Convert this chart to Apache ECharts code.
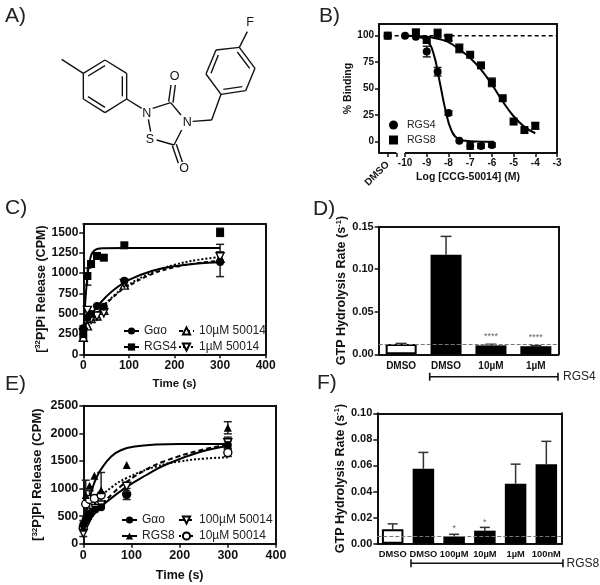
<!DOCTYPE html>
<html><head><meta charset="utf-8">
<style>html,body{margin:0;padding:0;background:#fff}#c{width:600px;height:585px}</style>
<script src="https://cdn.jsdelivr.net/npm/echarts@6/dist/echarts.min.js"></script>
</head><body><div id="c"></div>
<script>
// ---------- Panel B data: log[CCG-50014] vs % binding
const bTicks = [-10,-9,-8,-7,-6,-5,-4,-3];
const bYTicks = [0,25,50,75,100];
const bRgs4Pts = [[-10.8,100],[-10,100],[-9.5,99],[-9,85],[-8.5,66],[-8,27],[-7.5,1],[-7,-4],[-6.5,-4],[-6,-3]];
const bRgs8Pts = [[-10.8,100],[-9.5,103],[-9,96],[-8.5,102],[-8,98],[-7.5,88],[-7,82],[-6.5,72],[-6,56],[-5.5,41],[-5,19],[-4.5,11],[-4,15]];
const bRgs4Fit = [[-10,100],[-9.5,99.5],[-9,95],[-8.7,84],[-8.4,56],[-8.14,30],[-7.87,11],[-7.56,3],[-7,0.5],[-5.9,0]];
const bRgs8Fit = [[-10,100],[-9,99],[-8.5,97],[-8,94],[-7.5,87],[-7,79],[-6.5,68],[-6,54],[-5.5,38],[-5,24],[-4.5,14],[-4,8]];
const bErr4 = [[-9,80,90],[-8.5,62,70],[-8,25,29],[-7,-7,-1],[-6.5,-6,-2],[-6,-5,-1]];
const bErr8 = [[-9.5,100,106],[-9,93,99],[-8.5,98,106],[-8,95,101],[-7.5,84,92],[-6,52,60],[-4,12,18]];
// ---------- Panel C data: time vs CPM
const cTicksX = [0,100,200,300,400];
const cTicksY = [0,250,500,750,1000,1250,1500];
const cGaoPts = [[0,320],[9,450],[17,495],[30,594],[45,586],[90,905],[300,1135]];
const cRgs4Pts = [[0,250],[9,963],[17,1110],[30,1209],[45,1188],[90,1340],[300,1496]];
const c10Pts = [[0,210],[9,350],[17,440],[30,470],[45,540],[90,850],[300,1180]];
const c1Pts = [[0,270],[9,540],[17,430],[30,470],[45,510],[90,870],[300,1200]];
const cGaoFit = [[0,320],[15,464],[30,582],[50,707],[70,806],[100,915],[150,1025],[200,1083],[250,1115],[300,1132]];
const cRgs4Fit = [[0,250],[5,700],[10,1000],[15,1170],[20,1250],[30,1295],[45,1305],[90,1308],[300,1308]];
const c10Fit = [[0,240],[15,375],[30,490],[50,620],[70,725],[90,810],[150,985],[200,1070],[250,1120],[300,1150]];
const c1Fit = [[0,270],[15,395],[30,505],[50,630],[70,735],[90,825],[150,1005],[200,1100],[250,1160],[300,1195]];
const cErr = [[9,850,1060],[300,1450,1550],[300,955,1352],[0,190,350],[300,1130,1260],[30,430,510]];
// ---------- Panel D data
const dCats = ['DMSO','DMSO','10µM','1µM'];
const dVals = [0.012,0.117,0.0105,0.0095];
const dErrTop = [0.0128,0.1386,0.0118,0.0102];
const dFills = ['#fff','#000','#000','#000'];
const dStars = ['','','****','****'];
const dTicksY = [0,0.05,0.10,0.15];
const dRef = 0.0115;
// ---------- Panel E data: time vs CPM
const eTicksX = [0,100,200,300,400];
const eTicksY = [0,500,1000,1500,2000,2500];
const eGaoPts = [[0,350],[5,440],[10,480],[15,550],[25,620],[37,660],[90,880],[300,1790]];
const eRgs8Pts = [[0,300],[5,880],[13,1050],[23,1232],[37,970],[90,1425],[300,2100]];
const e100Pts = [[0,190],[5,320],[10,420],[15,500],[25,640],[37,700],[90,1040],[300,1830]];
const e10Pts = [[0,300],[5,720],[13,800],[23,820],[37,880],[90,900],[300,1650]];
const eGaoFit = [[0,350],[25,575],[50,770],[90,1030],[130,1240],[173,1440],[242,1660],[300,1770]];
const eRgs8Fit = [[0,300],[10,725],[20,1030],[27,1190],[37,1350],[58,1580],[79,1697],[107,1760],[150,1795],[200,1805],[300,1805]];
const e100Fit = [[0,250],[30,620],[60,900],[90,1120],[130,1340],[170,1500],[250,1710],[300,1790]];
const e10Fit = [[0,420],[30,790],[60,1030],[90,1190],[150,1395],[200,1490],[250,1540],[300,1565]];
const eErr = [[300,1990,2210],[300,1720,1860],[300,1730,1930],[300,1580,1720],[37,700,1290],[90,800,1000],[5,420,1150],[0,130,420],[13,640,960]];
// ---------- Panel F data
const fCats = ['DMSO','DMSO','100µM','10µM','1µM','100nM'];
const fVals = [0.011,0.0575,0.0055,0.010,0.046,0.061];
const fErrTop = [0.0152,0.070,0.0072,0.0125,0.061,0.0785];
const fFills = ['#fff','#000','#000','#000','#000','#000'];
const fStars = ['','','*','*','',''];
const fTicksY = [0,0.02,0.04,0.06,0.08,0.10];
const fRef = 0.0055;
// ---------- Panel A: chemical structure (line drawing, not data)
const bonds = [[185,178,250,220],[250,220,315,180],[315,180,380,220],[380,220,380,297],[380,297,315,338],[315,338,250,297],[250,297,250,220],
 [264,228,315,197],[367,229,367,289],[315,322,264,290],[380,297,425,325],[445,358,452,395],[470,420,522,435],[522,435,545,390],
 [543,345,512,308],[458,325,512,308],[506,305,513,255],[519,308,526,255],[517,437,535,490],[529,433,547,486],
 [578,364,635,360],[635,360,663,283],[663,283,737,272],[737,272,765,205],[765,205,718,142],[718,142,648,150],[648,150,618,222],[618,222,663,283],
 [670,268,727,260],[749,205,712,156],[655,165,633,220],[718,142,742,95]];
const atoms = [['N',440,342],['S',450,418],['N',562,367],['O',524,231],['O',552,507],['F',750,68]];

const INK = '#111';
const FF = '"Liberation Sans", Arial, sans-serif';
const grid=[], xAxis=[], yAxis=[], series=[];

function frame(g, left, top, width, height){
  grid.push({left, top, width, height, containLabel:false});
  xAxis.push({gridIndex:g,type:'value',position:'top',min:0,max:1,axisLine:{show:true,onZero:false,lineStyle:{color:INK,width:2}},axisTick:{show:false},axisLabel:{show:false},splitLine:{show:false}});
  yAxis.push({gridIndex:g,type:'value',position:'right',min:0,max:1,axisLine:{show:true,onZero:false,lineStyle:{color:INK,width:2}},axisTick:{show:false},axisLabel:{show:false},splitLine:{show:false}});
}
function valX(g,min,max,ticks,labels,name,gap,fs,nfs,showLine){
  xAxis.push({gridIndex:g,type:'value',position:'bottom',min,max,name,nameLocation:'middle',nameGap:gap,
    nameTextStyle:{fontFamily:FF,fontWeight:'bold',fontSize:nfs,color:INK},
    axisLine:{show:showLine!==false,onZero:false,lineStyle:{color:INK,width:2}},
    axisTick:{show:true,length:4,customValues:ticks,lineStyle:{color:INK,width:1.5}},
    axisLabel:{customValues:labels,margin:5,fontFamily:FF,fontWeight:'bold',fontSize:fs,color:INK,hideOverlap:false},splitLine:{show:false}});
  return xAxis.length-1;
}
function valY(g,min,max,ticks,nameText,gap,fs,nfs,fmt){
  yAxis.push({gridIndex:g,type:'value',position:'left',min,max,name:nameText,nameLocation:'middle',nameGap:gap,nameRotate:90,
    nameTextStyle:{fontFamily:FF,fontWeight:'bold',fontSize:nfs,color:INK,rich:{b:{fontFamily:FF,fontWeight:'bold',fontSize:nfs,color:INK,lineHeight:nfs+2},s:{fontFamily:FF,fontWeight:'bold',fontSize:nfs*0.62,color:INK,verticalAlign:'top',lineHeight:nfs+2}}},
    axisLine:{show:true,onZero:false,lineStyle:{color:INK,width:2}},
    axisTick:{show:true,length:4,customValues:ticks,lineStyle:{color:INK,width:1.5}},
    axisLabel:{customValues:ticks,margin:5,fontFamily:FF,fontWeight:'bold',fontSize:fs,color:INK,formatter:fmt||(v=>String(v))},splitLine:{show:false}});
  return yAxis.length-1;
}
function catX(g,cats,fs,margin){
  xAxis.push({gridIndex:g,type:'category',position:'bottom',data:cats,
    axisLine:{show:true,onZero:false,lineStyle:{color:INK,width:2}},axisTick:{show:false},
    axisLabel:{interval:0,margin,fontFamily:FF,fontWeight:'bold',fontSize:fs,color:INK},splitLine:{show:false}});
  return xAxis.length-1;
}
function marker(sym){
  const open = sym.open;
  return {symbol:sym.s,symbolSize:sym.z,symbolRotate:sym.r||0,itemStyle:open?{color:'#fff',borderColor:'#000',borderWidth:1.4,opacity:1}:{color:'#000',borderColor:'#000',borderWidth:0,opacity:1}};
}
const CIRC={s:'circle',z:8}, SQ={s:'rect',z:8}, TRI={s:'triangle',z:8}, OTRI={s:'triangle',z:8,open:true}, ODOWN={s:'triangle',z:8,r:180,open:true}, OCIRC={s:'circle',z:8,open:true};
function fit(name,data,xi,yi,sym,type,w){
  series.push(Object.assign({name,type:'line',xAxisIndex:xi,yAxisIndex:yi,data,smooth:0.45,showSymbol:false,clip:false,z:3,
    lineStyle:{color:'#000',width:w||2,type:type||'solid'}},marker(sym)));
}
function pts(name,data,xi,yi,sym){
  series.push(Object.assign({name,type:'scatter',xAxisIndex:xi,yAxisIndex:yi,data,clip:false,z:4},marker(sym)));
}
function errs(name,data,xi,yi,cap,color){
  series.push({name,type:'custom',xAxisIndex:xi,yAxisIndex:yi,data,clip:false,z:2,silent:true,
    encode:{x:0,y:[1,2]},
    renderItem(p,api){
      const a=api.coord([api.value(0),api.value(1)]), b=api.coord([api.value(0),api.value(2)]);
      const st={stroke:color||'#222',lineWidth:1.5,fill:null};
      return {type:'group',children:[
        {type:'line',shape:{x1:a[0],y1:a[1],x2:b[0],y2:b[1]},style:st},
        {type:'line',shape:{x1:a[0]-cap,y1:a[1],x2:a[0]+cap,y2:a[1]},style:st},
        {type:'line',shape:{x1:b[0]-cap,y1:b[1],x2:b[0]+cap,y2:b[1]},style:st}]};
    }});
}
function bars(name,vals,fills,stars,ref,xi,yi,w,fs){
  series.push({name,type:'bar',xAxisIndex:xi,yAxisIndex:yi,barWidth:w,z:2,
    data:vals.map((v,i)=>({value:v,itemStyle:{color:fills[i],borderColor:'#000',borderWidth:fills[i]==='#fff'?2:0},
      label:{show:!!stars[i],formatter:stars[i],position:'top',distance:4,color:'#666',fontSize:fs,fontFamily:FF}})),
    markLine:{silent:true,symbol:'none',z:6,precision:5,animation:false,label:{show:false},lineStyle:{color:'#777',type:'dashed',width:1},data:[{yAxis:ref}]}});
}
function topErr(name,vals,tops,xi,yi,cap){
  series.push({name,type:'custom',xAxisIndex:xi,yAxisIndex:yi,z:2,silent:true,clip:false,data:vals.map((v,i)=>[i,v,tops[i]]),encode:{x:0,y:[1,2]},
   renderItem(p,api){const a=api.coord([api.value(0),api.value(1)]),b=api.coord([api.value(0),api.value(2)]);const st={stroke:'#333',lineWidth:1.5};
     return {type:'group',children:[{type:'line',shape:{x1:a[0],y1:a[1],x2:b[0],y2:b[1]},style:st},{type:'line',shape:{x1:b[0]-cap,y1:b[1],x2:b[0]+cap,y2:b[1]},style:st}]};}});
}

// ---- Panel B (grid 0)
frame(0,379,24,178,129);
{const Y=-10.66;
 const xm=valX(0,-11.2,-3,[-10.8,-10.4].concat(bTicks),bTicks,'Log [CCG-50014] (M)',19,10,10.5,false);
 xAxis.push({gridIndex:0,type:'value',position:'bottom',min:-11.2,max:-3,axisLine:{show:false,onZero:false},axisTick:{show:false},
   axisLabel:{customValues:[-10.8],rotate:45,margin:10,fontFamily:FF,fontWeight:'bold',fontSize:10,color:INK,formatter:()=>'DMSO'},splitLine:{show:false}});
 const ym=valY(0,Y,111,bYTicks,'% Binding',18,10,10.5);
 series.push({name:'axisSegmentLeft',type:'line',xAxisIndex:xm,yAxisIndex:ym,clip:false,symbol:'none',data:[[-11.2,Y],[-10.4,Y]],lineStyle:{color:INK,width:2},z:1,silent:true});
 series.push({name:'axisSegmentRight',type:'line',xAxisIndex:xm,yAxisIndex:ym,clip:false,symbol:'none',data:[[-10,Y],[-3,Y]],lineStyle:{color:INK,width:2},z:1,silent:true});
 series.push({name:'Reference 100%',type:'line',xAxisIndex:xm,yAxisIndex:ym,clip:false,symbol:'none',data:[[-10.8,100],[-3,100]],lineStyle:{color:'#000',width:1.5,type:[4,3]},z:2,silent:true});
 errs('B RGS4 error',bErr4,xm,ym,4); errs('B RGS8 error',bErr8,xm,ym,4);
 fit('B RGS4 fit',bRgs4Fit,xm,ym,CIRC); fit('B RGS8 fit',bRgs8Fit,xm,ym,SQ);
 pts('B|RGS4',bRgs4Pts,xm,ym,CIRC); pts('B|RGS8',bRgs8Pts,xm,ym,SQ);
}
// ---- Panel C (grid 1)
frame(1,83.3,224,182.4,130.3);
{const xm=valX(1,0,400,cTicksX,cTicksX,'Time (s)',24,12,11.5);
 const ym=valY(1,0,1602,cTicksY,'{b|[}{s|32}{b|P]Pi Release (CPM)}',35,12,12.5);
 errs('C error',cErr,xm,ym,4);
 pts('C 10µM points',c10Pts,xm,ym,OTRI); pts('C 1µM points',c1Pts,xm,ym,ODOWN);
 fit('C|10µM 50014',c10Fit,xm,ym,OTRI,[4,3]); fit('C|1µM 50014',c1Fit,xm,ym,ODOWN,[2,2]);
 fit('C|Gαo',cGaoFit,xm,ym,CIRC); fit('C|RGS4',cRgs4Fit,xm,ym,SQ);
 pts('C Gαo points',cGaoPts,xm,ym,CIRC); pts('C RGS4 points',cRgs4Pts,xm,ym,SQ);
}
// ---- Panel D (grid 2)
frame(2,378.7,226.7,179.6,127.6);
{const xm=catX(2,dCats,10,7);
 const ym=valY(2,0,0.15,dTicksY,'{b|GTP Hydrolysis Rate (s}{s|-1}{b|)}',29,11,12.5,v=>v.toFixed(2));
 bars('D rate',dVals,dFills,dStars,dRef,xm,ym,31,9);
 topErr('D error',dVals,dErrTop,xm,ym,5.5);
}
// ---- Panel E (grid 3)
frame(3,83.3,405.7,192.7,138);
{const xm=valX(3,0,400,eTicksX,eTicksX,'Time (s)',25,12.5,12.5);
 const ym=valY(3,0,2500,eTicksY,'{b|[}{s|32}{b|P]Pi Release (CPM)}',38,12.5,13);
 errs('E error',eErr,xm,ym,4);
 pts('E 100µM points',e100Pts,xm,ym,ODOWN); pts('E 10µM points',e10Pts,xm,ym,OCIRC);
 fit('E|100µM 50014',e100Fit,xm,ym,ODOWN,[5,3]); fit('E|10µM 50014',e10Fit,xm,ym,OCIRC,[2,2]);
 fit('E|Gαo',eGaoFit,xm,ym,CIRC); fit('E|RGS8',eRgs8Fit,xm,ym,TRI);
 pts('E Gαo points',eGaoPts,xm,ym,CIRC); pts('E RGS8 points',eRgs8Pts,xm,ym,TRI);
}
// ---- Panel F (grid 4)
frame(4,377.3,413.3,184.4,130.4);
{const xm=catX(4,fCats,9.3,6);
 const ym=valY(4,0,0.10,fTicksY,'{b|GTP Hydrolysis Rate (s}{s|-1}{b|)}',29,11,12.5,v=>v.toFixed(2));
 bars('F rate',fVals,fFills,fStars,fRef,xm,ym,21.5,9);
 topErr('F error',fVals,fErrTop,xm,ym,5);
}
function legend(left,top,names,o){
  o=o||{};
  return {left,top,orient:'vertical',padding:0,itemWidth:o.iw||15,itemHeight:9,itemGap:o.gap==null?2:o.gap,selectedMode:false,align:'left',data:names,
    formatter:n=>n.split('|')[1],
    textStyle:{fontFamily:FF,fontSize:o.fs||12,color:'#222',lineHeight:14,padding:o.pad||0}};
}
const panelLabels=[['A)',5,6],['B)',319,6],['C)',5,198],['D)',313,199],['E)',5,374],['F)',317,373]];
const graphic=[];
bonds.forEach(b=>graphic.push({type:'line',silent:true,shape:{x1:b[0]/3,y1:b[1]/3,x2:b[2]/3,y2:b[3]/3},style:{stroke:INK,lineWidth:1.4}}));
atoms.forEach(a=>graphic.push({type:'text',silent:true,x:a[1]/3,y:a[2]/3,style:{text:a[0],font:'12.5px '+FF,fill:INK,align:'center',verticalAlign:'middle'}}));
function bracket(x1,x2,y,label,gap){
  const st={stroke:INK,lineWidth:1.6};
  graphic.push({type:'line',silent:true,shape:{x1,y1:y,x2,y2:y},style:st},
    {type:'line',silent:true,shape:{x1,y1:y-4,x2:x1,y2:y+4},style:st},
    {type:'line',silent:true,shape:{x1:x2,y1:y-4,x2:x2,y2:y+4},style:st},
    {type:'text',silent:true,x:x2+gap,y,style:{text:label,font:'12px '+FF,fill:'#222',align:'left',verticalAlign:'middle'}});
}
bracket(429.7,558,376.7,'RGS4',5);
bracket(411,563,563.3,'RGS8',3.5);

const chart=echarts.init(document.getElementById('c'),null,{renderer:'canvas'});
chart.setOption({animation:false,backgroundColor:'#fff',
  title:panelLabels.map(l=>({text:l[0],left:l[1],top:l[2],padding:0,textStyle:{fontFamily:FF,fontWeight:'normal',fontSize:21,color:'#222'}})),
  grid,xAxis,yAxis,series,
  legend:[legend(389,118,['B|RGS4','B|RGS8'],{iw:9,fs:10.5,gap:1,pad:[0,0,0,4]}),
          legend(123,324,['C|Gαo','C|RGS4']),legend(178,324,['C|10µM 50014','C|1µM 50014']),
          legend(121,513,['E|Gαo','E|RGS8']),legend(178,513,['E|100µM 50014','E|10µM 50014'])],
  graphic});
</script></body></html>
